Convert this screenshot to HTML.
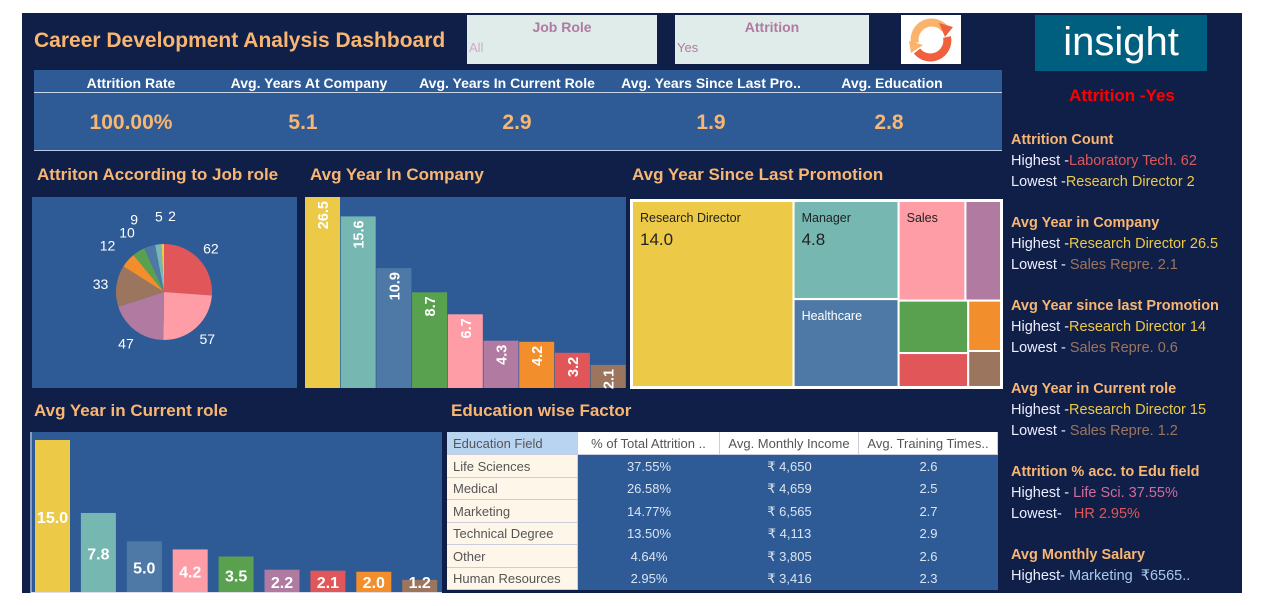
<!DOCTYPE html>
<html><head><meta charset="utf-8"><style>
body{margin:0;width:1269px;height:606px;background:#fff;font-family:"Liberation Sans",sans-serif;position:relative;overflow:hidden}
.a{position:absolute}
#dash{left:22px;top:13px;width:1220px;height:580px;background:#0f1f47}
.t{color:#f9b673;font-weight:bold;white-space:nowrap}
.kh{color:#fff;font-weight:bold;font-size:14px;text-align:center;width:190px}
.kv{color:#f9b673;font-weight:bold;font-size:21px;text-align:center;width:190px}
.side{color:#eef;font-size:14.5px;white-space:nowrap}
.side b{color:#f9b673}
</style></head><body>
<div id="dash" class="a"></div>
<div class="a t" style="left:34px;top:29px;font-size:21px">Career Development Analysis Dashboard</div>
<div class="a" style="left:467px;top:15px;width:190px;height:49px;background:#dfece9">
 <div class="a" style="left:0;width:190px;top:4px;text-align:center;color:#b07aa1;font-size:14px;font-weight:bold">Job Role</div>
 <div class="a" style="left:2px;top:25px;color:#d3a9cc;font-size:13px">All</div></div>
<div class="a" style="left:675px;top:15px;width:194px;height:49px;background:#dfece9">
 <div class="a" style="left:0;width:194px;top:4px;text-align:center;color:#b07aa1;font-size:14px;font-weight:bold">Attrition</div>
 <div class="a" style="left:2px;top:25px;color:#b07aa1;font-size:13px">Yes</div></div>
<div class="a" style="left:901px;top:15px;width:60px;height:49px;background:#fff">
<svg width="60" height="49"><path d="M14 28 A17 17 0 0 1 44 14" stroke="#fbb26a" stroke-width="8" fill="none"/><path d="M46 22 A17 17 0 0 1 16 36" stroke="#f0603c" stroke-width="8" fill="none"/><polygon points="38,8 52,12 44,22" fill="#f0603c"/><polygon points="8,26 22,30 10,38" fill="#fbb26a"/></svg></div>
<div class="a" style="left:1035px;top:15px;width:172px;height:56px;background:#005f7f;color:#fff;font-size:40px;text-align:center;line-height:54px">insight</div>
<div class="a" style="left:1011px;top:86px;width:222px;text-align:center;color:#f00;font-weight:bold;font-size:17px">Attrition -Yes</div>

<div class="a" style="left:34px;top:70px;width:968px;height:80px;background:#2e5b96;border-bottom:1px solid #b7c8e0">
 <div class="a" style="left:0;top:22px;width:968px;height:1px;background:#c9d6ea"></div>
 <div class="a kh" style="left:2px;top:5px">Attrition Rate</div>
 <div class="a kh" style="left:180px;top:5px">Avg. Years At Company</div>
 <div class="a kh" style="left:378px;top:5px">Avg. Years In Current Role</div>
 <div class="a kh" style="left:582px;top:5px">Avg. Years Since Last Pro..</div>
 <div class="a kh" style="left:763px;top:5px">Avg. Education</div>
 <div class="a kv" style="left:2px;top:41px">100.00%</div>
 <div class="a kv" style="left:174px;top:41px">5.1</div>
 <div class="a kv" style="left:388px;top:41px">2.9</div>
 <div class="a kv" style="left:582px;top:41px">1.9</div>
 <div class="a kv" style="left:760px;top:41px">2.8</div>
</div>

<div class="a t" style="left:37px;top:165px;font-size:17px">Attriton According to Job role</div>
<div class="a t" style="left:310px;top:165px;font-size:17px">Avg Year In Company</div>
<div class="a t" style="left:632px;top:165px;font-size:17px">Avg Year Since Last Promotion</div>
<div class="a t" style="left:34px;top:401px;font-size:17px">Avg Year in Current role</div>
<div class="a t" style="left:451px;top:401px;font-size:17px">Education wise Factor</div>

<svg id="ch" class="a" style="left:0;top:0" width="1269" height="606"></svg>

<div id="tbl" class="a" style="left:447px;top:432px;width:551px;height:158px;background:#2e5b96"></div>

<div class="a side" style="left:1011px;top:130px;line-height:21px">
<b>Attrition Count</b><br>Highest -<span style="color:#e15759">Laboratory Tech. 62</span><br>Lowest -<span style="color:#edc948">Research Director 2</span>
<div style="height:20px"></div><b>Avg Year in Company</b><br>Highest -<span style="color:#edc948">Research Director 26.5</span><br>Lowest - <span style="color:#9c755f">Sales Repre. 2.1</span>
<div style="height:20px"></div><b>Avg Year since last Promotion</b><br>Highest -<span style="color:#edc948">Research Director 14</span><br>Lowest - <span style="color:#9c755f">Sales Repre. 0.6</span>
<div style="height:20px"></div><b>Avg Year in Current role</b><br>Highest -<span style="color:#edc948">Research Director 15</span><br>Lowest - <span style="color:#9c755f">Sales Repre. 1.2</span>
<div style="height:20px"></div><b>Attrition % acc. to Edu field</b><br>Highest - <span style="color:#d36b9c">Life Sci. 37.55%</span><br>Lowest-&nbsp;&nbsp; <span style="color:#e15759">HR 2.95%</span>
<div style="height:20px"></div><b>Avg Monthly Salary</b><br>Highest- <span style="color:#a9c8f0">Marketing&nbsp; ₹6565..</span>
</div>

<script>
const colors=['#edc948','#76b7b2','#4e79a7','#59a14f','#ff9da7','#b07aa1','#f28e2b','#e15759','#9c755f'];
const pieValues=[62,57,47,33,12,10,9,5,2];
const pieColors=['#e15759','#ff9da7','#b07aa1','#9c755f','#f28e2b','#59a14f','#4e79a7','#76b7b2','#edc948'];
const pieLabelNudge=[0,0,0,0,-4,0,-7,4,10];
const companyValues=[26.5,15.6,10.9,8.7,6.7,4.3,4.2,3.2,2.1];
const roleValues=[15.0,7.8,5.0,4.2,3.5,2.2,2.1,2.0,1.2];
const roleColors=['#edc948','#76b7b2','#4e79a7','#ff9da7','#59a14f','#b07aa1','#e15759','#f28e2b','#9c755f'];
const treeLabels=['Research Director','Manager','Healthcare','Sales','','','','',''];
const treeValues=[14.0,4.8,4.3,3.1,1.65,1.7,1.1,0.77,0.55];
const treeColors=['#edc948','#76b7b2','#4e79a7','#ff9da7','#b07aa1','#59a14f','#e15759','#f28e2b','#9c755f'];
const eduFields=['Life Sciences','Medical','Marketing','Technical Degree','Other','Human Resources'];
const eduPct=['37.55%','26.58%','14.77%','13.50%','4.64%','2.95%'];
const eduIncome=['₹ 4,650','₹ 4,659','₹ 6,565','₹ 4,113','₹ 3,805','₹ 3,416'];
const eduTraining=['2.6','2.5','2.7','2.9','2.6','2.3'];

const S=document.getElementById('ch'),NS='http://www.w3.org/2000/svg';
function mk(t,a,p){const e=document.createElementNS(NS,t);for(const k in a)e.setAttribute(k,a[k]);(p||S).appendChild(e);return e;}
function txt(x,y,s,a){const e=mk('text',Object.assign({x:x,y:y,'font-family':'Liberation Sans, sans-serif'},a));e.textContent=s;return e;}

let p=mk('rect',{x:32,y:197,width:265,height:191,fill:'#2e5b96'});


p=mk('rect',{x:305,y:197,width:321,height:191,fill:'#2e5b96'});


p=mk('rect',{x:30,y:432,width:412,height:161,fill:'#2e5b96'});


mk('rect',{x:630,y:199,width:373,height:190,fill:'#fff'});

// pie
const cx=164,cy=292,r=48,tot=pieValues.reduce((a,b)=>a+b,0);
let ang=0;
pieValues.forEach((v,i)=>{
 const a0=ang,a1=ang+v/tot*2*Math.PI;ang=a1;
 const x0=cx+r*Math.sin(a0),y0=cy-r*Math.cos(a0),x1=cx+r*Math.sin(a1),y1=cy-r*Math.cos(a1);
 const s=mk('path',{d:`M${cx},${cy}L${x0},${y0}A${r},${r} 0 ${a1-a0>Math.PI?1:0} 1 ${x1},${y1}Z`,fill:pieColors[i]});
 
 
 const am=(a0+a1)/2,lr=v<15?(v<10?r+28:r+22):r+16;
 const lx=cx+lr*Math.sin(am)+pieLabelNudge[i],ly=cy-lr*Math.cos(am)+5;
 const l=txt(lx,ly,String(v),{fill:'#fff','font-size':14,'text-anchor':'middle'});
 
 
});

// company bars (axis clipped at panel top)
const cy0=388,ch=191,cscale=11;
companyValues.forEach((v,i)=>{
 const h=Math.min(v*cscale,ch),x=305+i*35.7;
 const b=mk('rect',{x:x,y:cy0-h,width:35,height:h,fill:colors[i]});
 
 
 const t=txt(0,0,v.toFixed(1),{fill:'#fff','font-size':14.5,'font-weight':'bold','text-anchor':'end',transform:`translate(${x+23},${cy0-h+4}) rotate(-90)`});
 
 
});

// role bars
const ry0=592,rh=152,rmax=15;
roleValues.forEach((v,i)=>{
 const h=v/rmax*rh,x=35+i*45.9;
 const b=mk('rect',{x:x,y:ry0-h,width:35,height:h,fill:roleColors[i]});
 
 
 const t=txt(x+17.5,Math.min(ry0-h/2+7,ry0-4),v.toFixed(1),{fill:'#fff','font-size':16,'font-weight':'bold','text-anchor':'middle'});
 
 
});
mk('line',{x1:31,y1:432,x2:31,y2:593,stroke:'#dde',"stroke-width":1});
mk('line',{x1:31,y1:592.5,x2:442,y2:592.5,stroke:'#dde',"stroke-width":1});

// treemap: slice-and-dice tree of indices
const treeLayout={d:'h',c:[0,{d:'v',c:[1,2]},{d:'v',c:[{d:'h',c:[3,4]},{d:'h',c:[{d:'v',c:[5,6]},{d:'v',c:[7,8]}]}]}]};
function nsum(n){return typeof n==='number'?treeValues[n]:n.c.reduce((a,b)=>a+nsum(b),0);}
const rects=[];
function lay(n,x,y,w,h){
 if(typeof n==='number'){rects.push({x,y,w,h,i:n});return;}
 const s=nsum(n);let off=0;
 n.c.forEach(k=>{const f=nsum(k)/s;
  if(n.d==='h'){lay(k,x+off,y,w*f,h);off+=w*f;}else{lay(k,x,y+off,w,h*f);off+=h*f;}});
}
lay(treeLayout,632,201,369,186);
rects.forEach(r=>{
 const c=mk('rect',{x:r.x,y:r.y,width:r.w,height:r.h,fill:treeColors[r.i],stroke:'#fff','stroke-width':2});
 
 
 if(treeLabels[r.i]){const col=r.i==2?'#fff':'#222';
  const t=txt(r.x+8,r.y+21,treeLabels[r.i],{fill:col,'font-size':12.5});
  
  
  if(r.i<2){const v=txt(r.x+8,r.y+44,treeValues[r.i].toFixed(1),{fill:'#222','font-size':17});
   
   }
 }
});

// table
const T=document.getElementById('tbl');
const cols=[0,131,273,412,551],heads=['Education Field','% of Total Attrition ..','Avg. Monthly Income','Avg. Training Times..'];
function cell(x,y,w,h,s,bg,col,al,bd){const d=document.createElement('div');d.className='a';d.style.cssText=`left:${x}px;top:${y}px;width:${w}px;height:${h}px;background:${bg};color:${col};font-size:13px;line-height:${h}px;text-align:${al};box-sizing:border-box;padding-left:${al=='left'?6:0}px;white-space:nowrap;overflow:hidden;${bd?'border-right:1px solid #ccd;border-bottom:1px solid #ccd;':''}`;d.textContent=s;T.appendChild(d);return d;}
heads.forEach((h,j)=>{const d=cell(cols[j],0,cols[j+1]-cols[j],23,h,j==0?'#b9d4f1':'#fff','#555',j==0?'left':'center',true);
 
 });
eduFields.forEach((f,i)=>{const y=23+Math.round(i*22.5),yn=23+Math.round((i+1)*22.5);
 let d=cell(0,y,131,yn-y,f,'#fdf6e9','#555','left',true);
 
 
 [eduPct[i],eduIncome[i],eduTraining[i]].forEach((v,j)=>{d=cell(cols[j+1],y,cols[j+2]-cols[j+1],yn-y,v,'transparent','#dce4f0','center',false);
  
  });
});
</script>
</body></html>
